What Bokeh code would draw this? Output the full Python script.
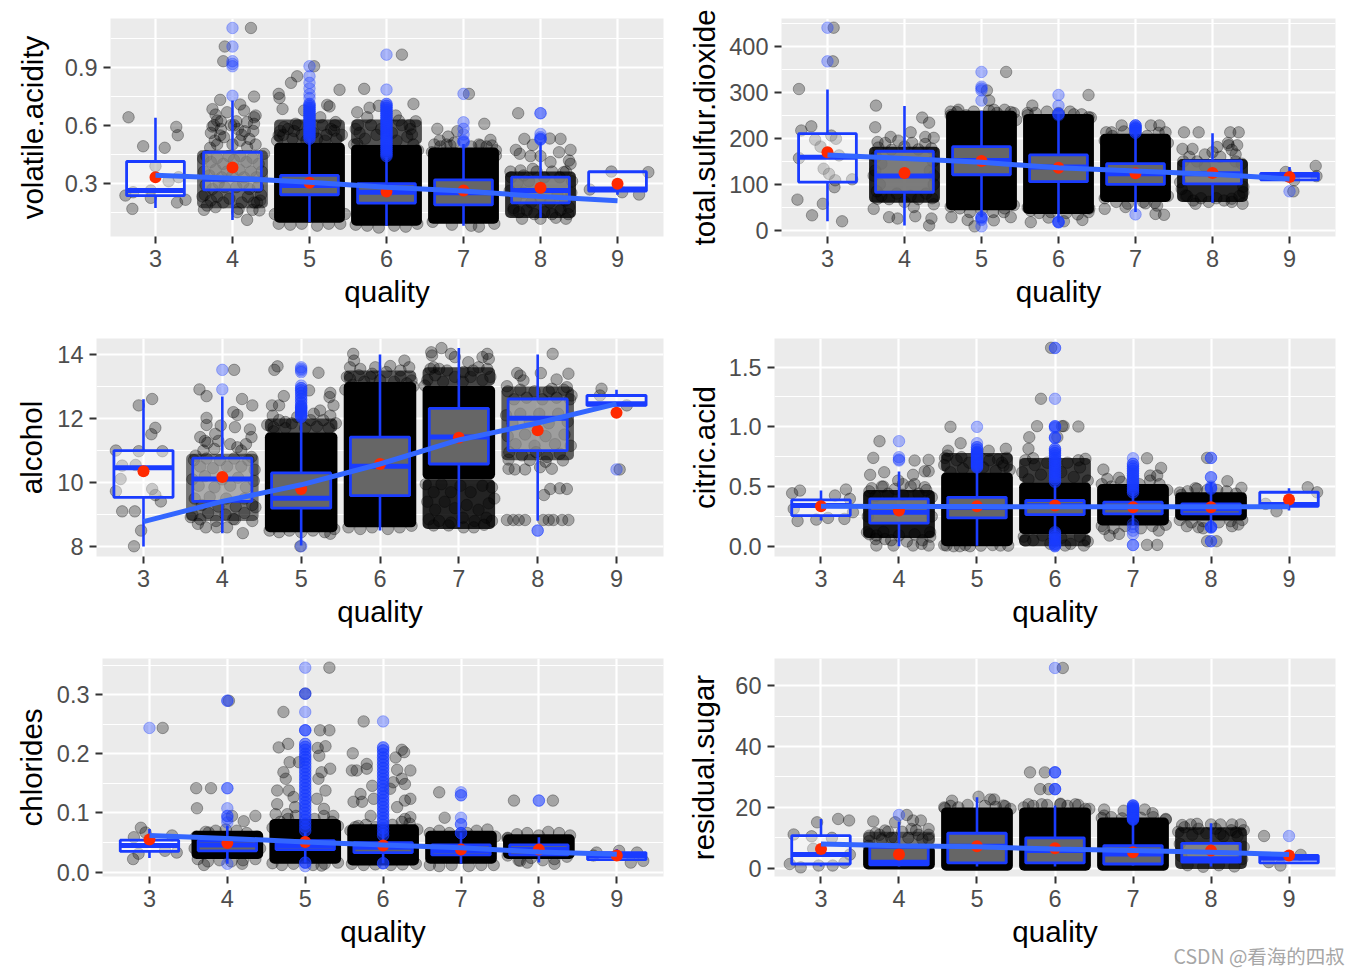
from bokeh.plotting import figure
from bokeh.layouts import column, row
from bokeh.models import FixedTicker, NumeralTickFormatter
from bokeh.core.properties import value
from bokeh.embed import file_html
from bokeh.resources import INLINE

quality = [3, 4, 5, 6, 7, 8, 9]
watermark = "CSDN @看海的四叔"

# ---------- volatile.acidity ----------
va_q1 = [.236, .265, .24, .197, .188, .198, .259]
va_med = [.262, .32, .288, .253, .25, .262, .27]
va_q3 = [.412, .46, .34, .297, .317, .331, .359]
va_lo = [.171, .11, .098, .08, .08, .121, .24]
va_hi = [.638, .728, .53, .435, .503, .512, .36]
va_mean = [.331, .381, .302, .257, .262, .276, .297]
va_trend = [.341, .326, .305, .279, .259, .231, .209]
va_blob = [(4, .17, .47, .55), (5, .095, .51, 1), (5, .51, .63, .65), (6, .08, .5, 1), (6, .5, .63, .65),
           (7, .09, .485, 1), (8, .12, .36, .8)]
va_dense_5 = [.71, .70, .69, .68, .67, .66, .65, .64, .63, .62, .61, .60, .59, .58, .57, .56, .55, .54, .53]
va_dense_6 = [.71, .70, .69, .68, .67, .66, .65, .64, .63, .62, .61, .60, .59, .58, .57, .56, .55, .54, .53, .52, .51, .50, .49, .48, .47, .46, .45, .44]
va_out = {4: [1.103, 1.007, .931, .917, .905, .752],
          5: [.905, .853, .819, .79, .76, .74] + va_dense_5 * 2,
          6: [.965, .784] + va_dense_6 * 2,
          7: [.762, .615, .581, .552, .52, .515, .51],
          8: [.662, .662, .555, .538, .529, .529, .525]}
va_jit = [(2.65, .641), (3.27, .591), (3.29, .548), (2.84, .491), (3.12, .483), (3.0, .388), (3.17, .31), (3.30, .331),
          (2.61, .236), (2.71, .253), (2.94, .224), (2.94, .262), (3.28, .2), (3.39, .214), (2.70, .167),
          (8.92, .36), (9.40, .357), (8.64, .267), (9.06, .253), (9.28, .241),
          (4.24, 1.103), (3.90, 1.007), (3.88, .931), (4.28, .748), (3.84, .731), (4.10, .707), (3.74, .683), (3.93, .667),
          (3.78, .655), (4.15, .676), (4.30, .65), (4.28, .641), (3.74, .593), (3.80, .624), (4.19, .616), (4.28, .607),
          (3.84, .547), (3.89, .538), (4.16, .569), (4.22, .529), (3.71, .483), (4.19, .486), (4.41, .452), (3.62, .426),
          (3.61, .231), (3.67, .184), (3.63, .162), (3.78, .176), (4.08, .167), (4.06, .15), (4.26, .162), (4.35, .159),
          (4.19, .11), (4.36, .21), (4.32, .2), (3.98, .6), (4.05, .62), (3.85, .58), (4.0, .5), (4.1, .52), (3.8, .5), (4.3, .5),
          (5.39, .783), (4.84, .853), (5.06, .905), (4.76, .819), (4.6, .762), (4.61, .741), (4.65, .684), (5.23, .705),
          (5.26, .697), (4.93, .676), (5.14, .641), (5.34, .616), (4.82, .607), (4.67, .59), (4.6, .547), (5.32, .572),
          (5.71, .788), (6.2, .965), (5.62, .667), (5.78, .69), (5.9, .70), (5.63, .602), (5.75, .641), (5.62, .503),
          (6.35, .71), (6.38, .62), (6.31, .58), (6.33, .552), (6.12, .65), (6.16, .624),
          (7.07, .762), (7.27, .607), (6.66, .581), (6.92, .569), (6.80, .541), (6.69, .521), (7.35, .524), (7.37, .495),
          (6.83, .495), (7.22, .495), (6.59, .46), (7.42, .443),
          (7.71, .662), (8.12, .531), (8.26, .529), (7.79, .529), (7.68, .472), (7.90, .498), (8.39, .472), (7.73, .452),
          (7.87, .44), (8.0, .44), (8.13, .409), (8.24, .46), (8.37, .417), (8.39, .4), (7.61, .36), (7.74, .366), (7.9, .374),
          (8.3, .357), (7.65, .159), (7.76, .116), (8.0, .116), (8.2, .121), (8.33, .116), (8.37, .176)]
va_dense = [(3.66, .44), (3.72, .41), (3.8, .43), (3.88, .4), (3.95, .44), (4.02, .42), (4.1, .44), (4.18, .41), (4.26, .43), (4.34, .4),
            (4.38, .36), (3.63, .36), (3.7, .34), (3.78, .37), (3.86, .33), (3.93, .36), (4.0, .34), (4.09, .37), (4.15, .33), (4.24, .36),
            (4.31, .33), (3.65, .29), (3.74, .27), (3.82, .3), (3.9, .28), (4.05, .28), (4.14, .3), (4.22, .27), (4.33, .28), (3.64, .24),
            (3.72, .21), (3.8, .23), (3.88, .2), (3.96, .22), (4.12, .2), (4.2, .23), (4.28, .2), (4.37, .24), (3.72, .56), (3.77, .52),
            (3.85, .62), (4.07, .58), (4.02, .6), (4.12, .55), (4.27, .57), (3.76, .6),
            (4.58, .52), (4.66, .55), (4.72, .58), (4.78, .53), (4.85, .6), (4.9, .55), (4.96, .52), (5.05, .56), (5.1, .53), (5.17, .6),
            (5.22, .55), (5.28, .58), (5.35, .53), (5.42, .55), (4.62, .57), (4.8, .57), (5.2, .52), (5.33, .6),
            (4.6, .09), (4.75, .085), (4.9, .09), (5.1, .08), (5.25, .09), (5.4, .09), (4.55, .14), (5.46, .14),
            (5.58, .5), (5.65, .56), (5.72, .53), (5.8, .6), (5.87, .55), (5.93, .58), (6.07, .56), (6.13, .52), (6.2, .6), (6.27, .54),
            (6.35, .5), (6.41, .47), (5.6, .58), (6.3, .6),
            (5.6, .085), (5.75, .08), (5.9, .07), (6.1, .08), (6.25, .075), (6.4, .09),
            (6.62, .5), (6.7, .49), (6.78, .5), (6.88, .51), (7.1, .49), (7.2, .5), (7.3, .49), (7.42, .47),
            (6.6, .1), (6.85, .085), (7.1, .08), (7.2, .075), (7.4, .09),
            (7.62, .33), (7.7, .3), (7.78, .34), (7.85, .31), (7.95, .36), (8.05, .33), (8.15, .36), (8.25, .33), (8.33, .36), (8.41, .31),
            (7.6, .26), (7.68, .22), (7.78, .25), (7.88, .2), (8.0, .22), (8.12, .2), (8.22, .24), (8.32, .21), (8.4, .25),
            (7.65, .17), (7.72, .15), (7.82, .16), (7.92, .14), (8.05, .15), (8.15, .14), (8.26, .16), (8.36, .14)]

# ---------- total.sulfur.dioxide ----------
ts_q1 = [105, 83, 121, 106, 100, 101, 110]
ts_med = [159, 118, 152, 138, 123, 123, 120]
ts_q3 = [210, 172, 182, 164, 145, 151, 124]
ts_lo = [20, 11, 29, 18, 40, 60, 108]
ts_hi = [306, 270, 260, 253, 213, 211, 138]
ts_mean = [170, 125, 151, 136, 124, 125, 116]
ts_trend = [164, 156, 148, 136, 129, 122, 112]
ts_blob = [(4, 60, 182, .85), (5, 44, 260, 1), (6, 36, 253, 1), (7, 62, 210, 1), (8, 62, 155, .85)]
ts_out = {3: [440, 367], 4: [],
          5: [344, 312, 308, 304, 282, 29, 29, 26, 23, 9],
          6: [294, 271, 253, 253, 253, 250, 20, 18, 18, 18],
          7: [228, 228, 228, 224, 224, 221, 221, 221, 216, 216, 212, 212, 35],
          8: [], 9: [85]}
ts_jit = [(2.63, 307), (2.79, 226), (2.66, 217), (2.84, 197), (3.05, 206), (3.11, 199), (2.91, 182), (2.63, 157), (3.15, 163),
          (2.95, 134), (3.02, 123), (3.10, 109), (3.32, 111), (3.09, 94), (2.61, 67), (2.94, 58), (2.80, 33), (3.19, 20),
          (3.08, 440), (3.07, 367),
          (3.63, 271), (3.62, 224), (4.23, 245), (4.32, 234), (3.65, 192), (3.82, 203), (4.08, 213), (4.27, 203), (4.38, 201),
          (3.6, 47), (3.8, 29), (3.91, 26), (4.14, 31), (4.35, 26), (4.32, 11), (4.38, 57), (3.65, 69), (4.12, 51), (3.6, 119), (4.38, 119),
          (5.32, 344), (5.10, 282), (5.07, 304), (4.68, 257), (5.16, 262), (5.38, 257), (4.61, 29), (4.82, 23), (4.91, 9),
          (5.16, 22), (5.38, 29), (5.29, 40), (4.6, 250), (5.45, 240),
          (5.66, 271), (6.39, 294), (6.39, 246), (5.64, 43), (5.64, 18), (5.87, 28), (6.07, 20), (6.31, 23), (6.39, 40), (5.6, 255), (6.2, 252),
          (6.82, 228), (6.62, 213), (6.69, 213), (7.2, 228), (7.31, 228), (7.39, 213), (6.6, 47), (6.87, 51), (7.13, 59),
          (7.28, 54), (7.26, 36), (7.37, 34),
          (7.63, 213), (7.82, 213), (8.23, 213), (8.34, 213), (7.61, 177), (7.74, 177), (8.06, 181), (8.32, 185), (8.21, 185),
          (8.39, 58), (7.78, 58), (8.25, 69), (7.65, 76), (8.4, 83), (7.58, 105), (8.3, 165), (7.9, 165),
          (9.34, 140), (9.35, 118), (8.95, 127), (9.06, 109), (9.05, 85)]
ts_dense = [(3.66, 180), (3.75, 190), (3.83, 175), (3.92, 195), (4.0, 182), (4.1, 190), (4.18, 176), (4.27, 188), (4.35, 178), (3.63, 160),
            (3.7, 145), (4.37, 150), (4.33, 130), (3.62, 130), (3.68, 100), (4.38, 100), (3.7, 75), (3.8, 68), (3.9, 80), (4.0, 62),
            (4.08, 75), (4.18, 68), (4.28, 80), (4.36, 70), (3.64, 85),
            (7.62, 150), (7.7, 160), (7.8, 150), (7.9, 140), (8.0, 170), (8.1, 160), (8.2, 190), (8.25, 175), (8.3, 150), (8.38, 145),
            (7.6, 90), (7.67, 75), (7.75, 65), (7.85, 70), (7.95, 62), (8.05, 70), (8.15, 65), (8.25, 62), (8.35, 75), (8.4, 95),
            (4.6, 258), (4.7, 262), (4.8, 250), (4.9, 258), (5.1, 260), (5.2, 255), (5.3, 262), (5.42, 255),
            (4.6, 52), (4.72, 48), (4.85, 40), (5.0, 45), (5.15, 40), (5.3, 48), (5.42, 55),
            (5.6, 250), (5.7, 255), (5.85, 258), (6.0, 255), (6.15, 258), (6.3, 252), (6.42, 245),
            (5.6, 50), (5.75, 38), (5.9, 40), (6.1, 38), (6.25, 35), (6.4, 48),
            (6.6, 195), (6.7, 205), (6.85, 215), (7.0, 208), (7.15, 205), (7.3, 212), (7.42, 190),
            (6.6, 70), (6.75, 62), (6.9, 58), (7.1, 62), (7.25, 60), (7.42, 75)]

# ---------- alcohol ----------
al_q1 = [9.54, 9.41, 9.2, 9.59, 10.58, 11.0, 12.41]
al_med = [10.46, 10.11, 9.51, 10.51, 11.42, 12.01, 12.46]
al_q3 = [11.0, 10.76, 10.3, 11.42, 12.32, 12.61, 12.72]
al_lo = [8.0, 8.42, 8.03, 8.5, 8.6, 8.81, 12.41]
al_hi = [12.6, 12.69, 12.1, 14.0, 14.2, 14.0, 12.9]
al_mean = [10.35, 10.17, 9.8, 10.58, 11.4, 11.63, 12.18]
al_trend = [8.78, 9.41, 9.93, 10.58, 11.33, 11.86, 12.46]
al_blob = [(4, 8.8, 10.9, .5), (5, 8.45, 11.57, 1), (5, 11.57, 12.0, .65), (6, 8.6, 13.14, 1), (6, 13.14, 13.5, .6),
           (7, 10.1, 13.03, 1), (7, 8.55, 10.1, .85), (7, 13.03, 13.6, .7), (8, 10.7, 13.0, .6)]
al_dense_5 = [12.95, 12.88, 12.8, 12.7, 12.6, 12.5, 12.4, 12.35, 12.3, 12.25, 12.2, 12.15, 12.1, 12.05]
al_out = {4: [13.52, 12.91],
          5: [13.6, 13.55, 13.5, 13.45, 13.03, 8.01] + al_dense_5 * 2,
          8: [8.5, 8.5], 9: [10.41]}
al_jit = [(3.11, 12.61), (2.94, 12.41), (3.15, 11.71), (3.10, 11.51), (2.65, 11), (2.94, 10.98), (3.24, 10.98), (2.73, 10.53),
          (2.9, 10.55), (2.71, 10.11), (3.11, 9.8), (2.65, 9.73), (3.15, 9.61), (3.22, 9.41), (2.73, 9.1), (2.89, 9.1), (2.97, 8.5), (2.88, 8.01),
          (4.15, 13.52), (3.71, 12.91), (3.8, 12.7), (4.25, 12.61), (4.38, 12.41), (4.14, 12.2), (4.19, 12.11), (3.8, 12.02),
          (3.8, 11.8), (3.98, 11.78), (4.16, 11.73), (3.72, 11.42), (3.91, 11.52), (4.35, 11.66), (4.37, 11.42), (3.81, 11.24),
          (4.19, 11.1), (4.37, 10.8), (3.66, 10.84), (3.6, 8.92), (3.69, 8.71), (3.79, 8.6), (3.93, 8.6), (4.06, 8.6), (4.26, 8.42),
          (4.14, 8.86), (4.42, 9.23), (3.78, 11.3), (3.95, 11.3), (4.1, 11.2), (4.3, 11.2),
          (4.7, 13.63), (4.66, 13.52), (5.22, 13.43), (4.78, 12.7), (5.1, 12.88), (5.37, 12.8), (5.36, 12.67), (4.63, 12.41),
          (4.72, 12.41), (5.41, 12.41), (5.24, 12.25), (4.64, 12.09), (5.37, 12.09), (5.16, 12.15), (4.65, 11.73), (4.8, 11.89),
          (5.37, 8.4), (4.99, 8.01),
          (5.66, 14.02), (5.67, 13.81), (5.62, 13.6), (5.75, 13.55), (5.94, 13.6), (6.13, 13.64), (5.62, 13.24), (5.88, 13.29),
          (6.31, 13.81), (6.37, 13.6), (6.26, 13.5), (6.4, 13.19),
          (6.78, 14.2), (6.65, 14.07), (6.66, 13.97), (6.9, 14.02), (6.95, 13.92), (7.36, 14.02), (7.3, 13.92), (7.38, 13.86),
          (7.12, 13.76), (6.64, 13.55), (6.68, 13.6), (6.85, 13.5), (7.06, 13.45), (7.25, 13.6), (7.36, 13.55), (6.57, 13.03),
          (6.68, 8.66), (6.87, 8.66), (7.06, 8.6), (7.32, 8.68), (7.19, 8.6),
          (8.19, 14.02), (8.39, 13.4), (7.74, 13.42), (8.04, 13.42), (8.24, 13.22), (7.61, 13.01), (7.82, 13.19), (7.78, 13.34),
          (8.18, 12.93), (8.37, 12.98), (8.43, 12.72),
          (7.63, 10.72), (8.32, 10.69), (7.63, 10.43), (7.71, 10.41), (7.84, 10.41), (8.03, 10.48), (8.18, 10.43), (8.16, 9.8),
          (8.28, 9.82), (8.37, 9.8), (8.08, 9.61),
          (7.61, 8.83), (7.69, 8.83), (7.76, 8.83), (7.84, 8.83), (8.07, 8.83), (8.14, 8.83), (8.2, 8.83), (8.31, 8.83), (8.39, 8.83),
          (8.81, 12.93), (8.79, 12.72), (9.13, 12.41), (9.04, 10.41)]
al_dense = [(3.64, 10.7), (3.72, 10.5), (3.8, 10.75), (3.88, 10.45), (3.97, 10.7), (4.06, 10.5), (4.15, 10.75), (4.24, 10.5), (4.33, 10.7), (4.41, 10.4),
            (3.62, 10.1), (3.7, 9.9), (3.78, 10.2), (3.9, 9.85), (4.0, 10.1), (4.1, 9.9), (4.2, 10.15), (4.3, 9.85), (4.4, 10.05),
            (3.65, 9.5), (3.74, 9.3), (3.84, 9.55), (3.95, 9.25), (4.05, 9.5), (4.17, 9.25), (4.28, 9.5), (4.38, 9.3),
            (3.62, 9.0), (3.72, 8.85), (3.82, 9.05), (3.92, 8.8), (4.04, 9.0), (4.16, 8.85), (4.28, 9.05), (4.38, 8.8), (3.76, 11.0), (3.9, 11.05), (4.24, 11.0),
            (4.57, 11.8), (4.65, 11.6), (4.72, 11.95), (4.8, 11.7), (4.88, 11.85), (4.95, 12.05), (5.05, 11.7), (5.12, 11.95), (5.2, 11.75), (5.28, 11.95), (5.35, 11.7), (5.44, 11.85),
            (4.6, 8.5), (4.72, 8.45), (4.85, 8.5), (5.0, 8.45), (5.15, 8.5), (5.3, 8.45), (5.42, 8.55),
            (5.58, 13.3), (5.65, 13.05), (5.73, 13.35), (5.8, 13.15), (5.9, 13.4), (6.0, 13.2), (6.08, 13.45), (6.18, 13.15), (6.26, 13.3), (6.34, 13.1), (6.42, 13.0), (5.56, 12.9),
            (5.6, 8.6), (5.75, 8.55), (5.9, 8.6), (6.1, 8.55), (6.25, 8.6), (6.4, 8.65),
            (6.6, 13.2), (6.7, 13.35), (6.8, 13.15), (6.95, 13.3), (7.05, 13.15), (7.15, 13.3), (7.3, 13.2), (7.4, 13.3), (6.75, 13.55), (7.18, 13.5),
            (6.58, 9.95), (6.68, 9.7), (6.78, 9.95), (6.9, 9.7), (7.02, 9.9), (7.15, 9.7), (7.3, 9.9), (7.42, 9.85),
            (6.6, 9.4), (6.7, 9.15), (6.82, 9.4), (6.95, 9.2), (7.1, 9.3), (7.25, 9.15), (7.38, 9.35), (7.45, 9.5),
            (6.62, 8.85), (6.75, 8.8), (6.9, 8.75), (7.05, 8.9), (7.2, 8.8), (7.35, 8.9), (7.42, 8.8),
            (7.62, 12.85), (7.7, 12.6), (7.78, 12.9), (7.86, 12.65), (7.96, 12.85), (8.06, 12.6), (8.14, 12.85), (8.24, 12.65), (8.33, 12.9), (8.41, 12.6),
            (7.6, 12.1), (7.68, 11.85), (7.78, 12.15), (7.9, 11.9), (8.02, 12.15), (8.14, 11.85), (8.26, 12.15), (8.38, 11.9),
            (7.62, 11.45), (7.72, 11.2), (7.84, 11.5), (7.96, 11.15), (8.1, 11.45), (8.22, 11.2), (8.34, 11.5), (8.42, 11.15),
            (7.64, 10.95), (7.8, 10.85), (7.98, 10.95), (8.12, 10.8), (8.28, 10.9), (7.9, 10.7), (8.1, 10.65)]

# ---------- citric.acid ----------
ca_q1 = [.257, .193, .237, .265, .271, .271, .335]
ca_med = [.341, .285, .327, .34, .327, .313, .349]
ca_q3 = [.388, .397, .41, .383, .369, .355, .452]
ca_lo = [.215, 0, .005, .117, .173, .117, .3]
ca_hi = [.466, .626, .648, .508, .453, .536, .486]
ca_mean = [.335, .299, .335, .341, .327, .327, .391]
ca_trend = [.335, .333, .333, .33, .33, .33, .33]
ca_blob = [(4, .07, .47, .9), (5, 0, .62, 1), (5, .62, .78, .75), (6, .1, .536, 1), (6, .536, .74, .75), (6, 0, .1, .75),
           (7, .173, .522, 1), (8, .215, .453, 1)]
ca_dense_5 = [.83, .81, .79, .78, .77, .76, .75, .74, .73, .72, .71, .70, .69, .68, .67, .66]
ca_dense_6 = [.816, .80, .78, .76, .74, .72, .70, .68, .66, .64, .62, .60, .58, .56, .54, .117, .10, .08, .06, .04, .02, .01, 0]
ca_dense_7 = [.69, .67, .65, .63, .61, .59, .57, .55, .53, .51, .49, .47, .45]
ca_out = {4: [.88, .746, .726, .718],
          5: [1.0, .863] + ca_dense_5 * 2,
          6: [1.662, 1.66, 1.235, 1.006, 1.006, 1.0, .99, .913, .91, .905] + ca_dense_6 * 2,
          7: [.737, .187, .16, .13, .1, .01, .01] + ca_dense_7 * 2,
          8: [.74, .74, .578, .578, .50, .49, .486, .48, .16, .16, .165, .155, .042, .042]}
ca_jit = [(2.63, .444), (2.73, .466), (3.18, .425), (3.32, .475), (3.37, .397), (3.41, .285), (2.7, .212), (2.94, .223), (3.09, .237),
          (3.3, .229), (2.65, .313),
          (3.75, .88), (3.67, .74), (4.2, .718), (4.38, .723), (3.81, .62), (3.63, .598), (4.18, .598), (4.33, .628), (4.38, .628),
          (3.99, .55), (3.65, .486), (4.33, .494), (3.71, .006), (3.93, .006), (4.18, .006), (4.38, .006), (3.82, .06), (4.4, .117),
          (3.59, .117), (3.71, .09), (4.29, .02), (3.8, .5), (4.05, .52), (4.2, .52),
          (4.66, 1.0), (4.79, .863), (4.63, .80), (5.15, .80), (5.37, .816), (5.27, .726), (4.59, .74), (4.8, .746), (5.34, .676),
          (4.61, .006), (4.78, 0), (4.91, 0), (5.3, .006),
          (5.95, 1.662), (5.82, 1.235), (5.77, 1.006), (6.11, 1.006), (5.67, .913), (5.66, .816), (5.62, .047), (5.72, .737),
          (6.3, 1.003), (6.09, 1.006), (6.39, .732), (6.37, .006), (6.13, .006), (6.03, .913),
          (7.18, .737), (6.62, .642), (7.36, .656), (7.22, .592), (7.31, .592), (6.82, .573), (6.67, .564), (7.33, .131), (6.7, .089),
          (6.82, .103), (7.18, .011), (7.31, .011), (6.63, .145),
          (7.95, .74), (8.21, .545), (8.39, .489), (7.8, .486), (7.62, .43), (7.69, .168), (7.84, .159), (7.9, .151), (8.27, .168),
          (8.35, .182), (8.07, .042), (7.95, .042),
          (9.24, .494), (9.36, .452), (8.7, .355), (8.84, .293)]
ca_dense = [(3.62, .46), (3.7, .42), (3.78, .5), (3.86, .44), (3.95, .48), (4.05, .43), (4.15, .5), (4.25, .44), (4.35, .47), (4.42, .41),
            (3.62, .1), (3.7, .06), (3.8, .12), (3.9, .05), (4.0, .09), (4.1, .04), (4.2, .1), (4.3, .05), (4.4, .08), (3.6, .25), (4.42, .25),
            (4.58, .68), (4.66, .62), (4.74, .72), (4.82, .65), (4.9, .7), (5.08, .66), (5.16, .72), (5.24, .63), (5.32, .7), (5.42, .64), (4.62, .76), (5.38, .74),
            (4.58, .01), (4.7, .0), (4.85, .01), (5.05, .005), (5.2, .01), (5.4, .005),
            (5.58, .62), (5.66, .56), (5.74, .68), (5.82, .6), (5.9, .7), (6.08, .62), (6.16, .7), (6.24, .58), (6.32, .66), (6.42, .55), (5.62, .72), (6.3, .72),
            (5.6, .08), (5.72, .05), (5.84, .09), (5.94, .02), (6.08, .07), (6.2, .02), (6.32, .08), (6.42, .04),
            (6.6, .52), (6.72, .5), (6.85, .54), (7.08, .52), (7.22, .55), (7.34, .52), (7.44, .47), (6.6, .17), (6.75, .15), (6.9, .17), (7.1, .15), (7.25, .17), (7.42, .18),
            (7.6, .45), (7.7, .46), (7.82, .48), (7.95, .47), (8.08, .47), (8.2, .46), (8.32, .44), (7.6, .22), (7.75, .2), (7.9, .21), (8.1, .2), (8.25, .21), (8.4, .22)]

# ---------- chlorides ----------
cl_q1 = [.035, .036, .038, .033, .029, .029, .021]
cl_med = [.045, .046, .045, .042, .036, .038, .028]
cl_q3 = [.054, .053, .053, .05, .046, .046, .033]
cl_lo = [.024, .014, .016, .015, .014, .016, .019]
cl_hi = [.073, .079, .067, .073, .067, .059, .039]
cl_mean = [.055, .049, .051, .045, .038, .038, .028]
cl_trend = [.062, .057, .051, .046, .041, .034, .03]
cl_blob = [(4, .022, .07, 1), (5, .014, .09, 1), (6, .011, .081, 1), (7, .014, .07, 1), (8, .022, .064, 1)]
cl_dense_5 = [.217, .212, .207, .2, .195, .19, .184, .178, .172, .166, .16, .154, .148, .142, .136, .13,
              .124, .118, .112, .106, .1, .094, .088, .082, .076, .07]
cl_dense_6 = [.211, .206, .2, .194, .188, .182, .176, .17, .164, .158, .152, .146, .14, .134, .128, .122, .116, .11, .104, .098, .092, .086,
              .08, .074, .068, .062]
cl_out = {3: [.244], 4: [.29, .29, .142, .142, .108, .095, .095, .09, .084, .014],
          5: [.346, .302, .302, .271, .24, .24, .24, .016, .016, .016, .01] + cl_dense_5 * 2,
          6: [.255, .015, .015, .015] + cl_dense_6 * 2,
          7: [.135, .13, .13, .092, .081, .081, .066, .066, .066], 8: [.121, .121]}
cl_jit = [(3.17, .244), (2.89, .075), (2.8, .059), (3.29, .062), (2.95, .067), (2.79, .022), (2.86, .031), (3.35, .033), (3.2, .036),
          (3.6, .142), (3.79, .142), (3.61, .108), (4.36, .095), (4.21, .086), (4.06, .095), (4.02, .29), (3.7, .012), (4.19, .014), (3.76, .067),
          (5.31, .346), (5.0, .302), (4.72, .271), (5.19, .24), (5.31, .24), (4.66, .211), (4.78, .217), (5.16, .21), (5.26, .213),
          (5.18, .197), (4.8, .186), (4.92, .186), (4.72, .169), (4.75, .158), (5.32, .175), (5.21, .169), (5.17, .158), (4.64, .138),
          (4.79, .138), (5.26, .138), (4.85, .127), (5.15, .124), (4.64, .115), (4.87, .11), (5.24, .107), (4.62, .098), (4.77, .098),
          (5.36, .095), (5.21, .011),
          (5.75, .255), (5.61, .201), (5.79, .183), (5.6, .172), (5.66, .172), (5.79, .175), (5.62, .119), (5.73, .119), (5.71, .132),
          (5.86, .146), (5.88, .124), (5.84, .095), (5.64, .076),
          (6.24, .207), (6.27, .203), (6.16, .194), (6.18, .173), (6.35, .172), (6.13, .152), (6.24, .158), (6.28, .149), (6.09, .141),
          (6.28, .121), (6.35, .124), (6.18, .11), (6.28, .09), (6.35, .093),
          (6.72, .135), (6.79, .092),
          (7.68, .121), (8.18, .121), (7.6, .057), (8.2, .014), (7.85, .016), (7.76, .019),
          (8.74, .033), (9.03, .036), (9.26, .033), (9.18, .016), (9.34, .019), (8.7, .028)]
cl_dense = [(3.6, .06), (3.72, .068), (3.85, .07), (3.98, .072), (4.12, .07), (4.25, .066), (4.38, .06), (4.42, .04), (3.58, .04),
            (3.62, .022), (3.75, .018), (3.9, .02), (4.05, .018), (4.2, .02), (4.36, .022),
            (4.58, .075), (4.68, .085), (4.78, .09), (4.88, .095), (5.12, .09), (5.24, .095), (5.34, .085), (5.42, .078),
            (4.58, .015), (4.7, .012), (4.85, .014), (5.1, .012), (5.25, .014), (5.42, .016),
            (5.58, .07), (5.68, .078), (5.78, .08), (5.9, .076), (6.12, .08), (6.24, .085), (6.34, .082), (6.44, .072),
            (5.6, .014), (5.75, .012), (5.9, .013), (6.1, .012), (6.25, .013), (6.42, .014),
            (6.6, .066), (6.72, .07), (6.85, .066), (7.08, .066), (7.2, .07), (7.34, .072), (7.44, .06),
            (6.6, .012), (6.72, .01), (6.88, .012), (7.1, .01), (7.26, .012), (7.42, .012),
            (7.6, .058), (7.72, .064), (7.85, .066), (8.0, .062), (8.12, .068), (8.26, .066), (8.4, .062),
            (7.6, .028), (7.74, .02), (7.9, .024), (8.05, .02), (8.2, .022), (8.36, .026)]

# ---------- residual.sugar ----------
rs_q1 = [1.4, 1.1, 1.75, 1.75, 1.4, 2.0, 1.75]
rs_med = [4.5, 2.0, 7.2, 5.8, 4.7, 3.1, 3.3]
rs_q3 = [10.7, 6.9, 11.5, 10.0, 7.4, 8.2, 4.2]
rs_lo = [.6, .6, .6, .6, .9, .6, 1.75]
rs_hi = [16.2, 15.4, 23.3, 20.6, 15.7, 14.8, 4.2]
rs_mean = [6.35, 4.5, 7.2, 6.6, 5.3, 5.8, 4.2]
rs_trend = [8.0, 7.4, 7.1, 6.3, 5.8, 5.3, 4.5]
rs_blob = [(4, -.4, 7.4, 1), (4, 7.4, 12, .5), (5, -.8, 20, 1), (6, -.8, 20, 1), (7, -.8, 16.7, 1), (8, -.2, 13.5, .8)]
rs_dense_7 = [20.6, 20, 19.4, 18.8, 18.2, 17.6, 17, 16.4, 16]
rs_out = {4: [17.5], 6: [65.8, 31.5, 31.5, 31.5, 26, 26, 26], 7: rs_dense_7 * 3, 9: [10.6]}
rs_jit = [(2.95, 15.1), (3.22, 16.2), (3.36, 15.7), (2.65, 11.1), (2.88, 10.5), (3.14, 10), (2.9, 6.4), (3.37, 4.5), (2.6, 1.4),
          (2.74, .3), (2.97, .9), (3.15, .9), (3.3, 1.8),
          (3.67, 15.4), (4.1, 17.5), (3.62, 10.7), (3.82, 12.4), (3.95, 15.1), (4.18, 15.7), (4.28, 15.7), (4.38, 12.9), (4.16, 12.9),
          (4.38, 9.6), (3.61, 7.4), (3.75, 11), (3.9, 10), (4.25, 11),
          (5.02, 23.5), (4.68, 22.2), (5.17, 22.6), (5.22, 22.6), (5.36, 20.4), (4.59, 19.7),
          (6.1, 65.8), (5.68, 31.5), (5.87, 31.5), (5.81, 26), (5.92, 26), (6.07, 21), (5.66, 21), (5.83, 21), (6.07, 21.2), (6.26, 21), (6.39, 19.5),
          (6.63, 19.3), (6.63, 17.3), (6.88, 18.9), (7.15, 19.3), (7.25, 18.1), (7.42, 16.2),
          (7.63, 14.2), (7.74, 14.4), (7.82, 14.6), (8.0, 14.4), (8.12, 14.4), (8.27, 14.4), (8.38, 14.4), (8.12, 11.3), (8.32, 11.8),
          (8.68, 10.6), (9.15, 4.4), (8.74, 2), (8.89, .9)]
rs_dense = [(3.62, 9), (3.7, 11.5), (3.78, 9.5), (3.86, 12), (3.94, 10), (4.04, 12), (4.12, 10), (4.22, 12.5), (4.3, 9.5), (4.38, 11),
            (4.58, 20), (4.66, 20.5), (4.76, 20), (4.88, 20.8), (5.1, 20.5), (5.24, 20.2), (5.34, 20.6), (5.43, 19.5),
            (5.6, 20), (5.72, 20.5), (5.9, 20.8), (6.16, 20.5), (6.3, 20.8), (6.44, 19.5),
            (6.6, 16.5), (6.72, 16.8), (6.86, 16.4), (7.1, 16.6), (7.26, 16.8), (7.42, 16),
            (7.58, 12), (7.66, 13.5), (7.76, 11), (7.84, 13), (7.94, 11.5), (8.06, 13), (8.16, 10.5), (8.26, 12.5), (8.34, 10.5), (8.42, 12.5),
            (7.6, 8), (7.62, 4), (8.42, 7), (8.4, 3), (7.7, 1), (7.9, .5), (8.1, 1), (8.3, .6)]

PANEL = "#EBEBEB"
BLUE = "#1a3cff"
TREND = "#3366FF"
RED = "#ff2a00"
SANS = "Liberation Sans"


def panel(name, q1, med, q3, lo, hi, mean, trend, blob, out, jit, dense,
          xr, yr, major, minor, w, h, border, label_standoff, fmt, box_half=.375):
    p = figure(width=w, height=h, output_backend="svg", toolbar_location=None,
               x_range=xr, y_range=yr, min_border_left=border[0], min_border_right=border[1],
               min_border_top=border[2], min_border_bottom=border[3], background_fill_color=PANEL,
               border_fill_color="white", outline_line_color=None)
    p.xaxis.ticker = FixedTicker(ticks=quality)
    p.yaxis.ticker = FixedTicker(ticks=major, minor_ticks=minor)
    p.yaxis.formatter = NumeralTickFormatter(format=fmt)
    p.xaxis.axis_label = "quality"
    p.yaxis.axis_label = name
    for ax in (p.xaxis[0], p.yaxis[0]):
        ax.axis_line_color = None
        ax.major_tick_line_color = "#333333"
        ax.major_tick_line_width = 2
        ax.major_tick_in = 0
        ax.major_tick_out = 7
        ax.minor_tick_line_color = None
        ax.major_label_text_font = SANS
        ax.major_label_text_font_size = "23.5px"
        ax.major_label_text_color = "#4D4D4D"
        ax.axis_label_text_font = SANS
        ax.axis_label_text_font_size = "29.5px"
        ax.axis_label_text_font_style = "normal"
        ax.axis_label_text_color = "black"
        ax.major_label_standoff = 6
    p.xaxis.axis_label_standoff = 5
    p.yaxis.axis_label_standoff = label_standoff
    p.xgrid.grid_line_color = "white"
    p.xgrid.grid_line_width = 2.2
    p.ygrid.grid_line_color = "white"
    p.ygrid.grid_line_width = 2.2
    p.ygrid.minor_grid_line_color = "white"
    p.ygrid.minor_grid_line_width = 1.2

    # dense stretches of the jittered cloud
    p.quad(left=[b[0] - .46 for b in blob], right=[b[0] + .46 for b in blob],
           bottom=[b[1] for b in blob], top=[b[2] for b in blob],
           fill_color="black", fill_alpha=[b[3] for b in blob], line_color=None, border_radius=5)
    # separately visible jittered points
    pts = jit + dense
    p.scatter([j[0] for j in pts], [j[1] for j in pts], size=11.5, marker="circle",
              fill_color="black", fill_alpha=.3, line_color="black", line_alpha=.3, line_width=1)
    # whiskers
    p.segment(quality, q3, quality, hi, line_color=BLUE, line_width=2.6)
    p.segment(quality, q1, quality, lo, line_color=BLUE, line_width=2.6)
    # outliers
    ox = [q for q, vals in out.items() for _ in vals]
    oy = [v for vals in out.values() for v in vals]
    p.scatter(ox, oy, size=11.5, marker="circle", fill_color=BLUE, fill_alpha=.35,
              line_color=BLUE, line_alpha=.35, line_width=1)
    # boxes
    p.quad(left=[q - box_half for q in quality], right=[q + box_half for q in quality], bottom=q1, top=q3,
           fill_color="white", fill_alpha=.4, line_color=BLUE, line_width=2.8)
    p.segment([q - box_half for q in quality], med, [q + box_half for q in quality], med,
              line_color=BLUE, line_width=5)
    # means
    p.scatter(quality, mean, size=12, marker="circle", fill_color=RED, line_color=RED, line_width=0)
    # trend
    p.line(quality, trend, line_color=TREND, line_width=5)
    return p


# x_range ends and frame borders follow the reference's layout
p1 = panel("volatile.acidity", va_q1, va_med, va_q3, va_lo, va_hi, va_mean, va_trend, va_blob, va_out, va_jit, va_dense,
           (2.416, 9.597), (.024, 1.152), [.3, .6, .9], [.15, .45, .75, 1.05], 672, 328, (110, 9, 18, 92), 13, "0.0")
p2 = panel("total.sulfur.dioxide", ts_q1, ts_med, ts_q3, ts_lo, ts_hi, ts_mean, ts_trend, ts_blob, ts_out, ts_jit, ts_dense,
           (2.403, 9.597), (-13, 460), [0, 100, 200, 300, 400], [50, 150, 250, 350, 450], 680, 328, (109, 17, 18, 92), 5, "0")
p3 = panel("alcohol", al_q1, al_med, al_q3, al_lo, al_hi, al_mean, al_trend, al_blob, al_out, al_jit, al_dense,
           (2.404, 9.596), (7.69, 14.5), [8, 10, 12, 14], [9, 11, 13], 672, 320, (96, 9, 10, 92), 6, "0")
p4 = panel("citric.acid", ca_q1, ca_med, ca_q3, ca_lo, ca_hi, ca_mean, ca_trend, ca_blob, ca_out, ca_jit, ca_dense,
           (2.404, 9.596), (-.086, 1.74), [0, .5, 1, 1.5], [.25, .75, 1.25], 680, 320, (102, 17, 10, 92), 5, "0.0")
p5 = panel("chlorides", cl_q1, cl_med, cl_q3, cl_lo, cl_hi, cl_mean, cl_trend, cl_blob, cl_out, cl_jit, cl_dense,
           (2.397, 9.6), (-.0075, .3615), [0, .1, .2, .3], [.05, .15, .25, .35], 672, 318, (102, 9, 10, 90), 6, "0.0")
p6 = panel("residual.sugar", rs_q1, rs_med, rs_q3, rs_lo, rs_hi, rs_mean, rs_trend, rs_blob, rs_out, rs_jit, rs_dense,
           (2.404, 9.596), (-2.7, 68.9), [0, 20, 40, 60], [10, 30, 50], 680, 318, (102, 17, 10, 90), 12, "0")

# the watermark lies over the lower right corner, below the last panel's frame
pw = figure(width=186, height=28, output_backend="svg", toolbar_location=None, x_range=(0, 1), y_range=(0, 1),
            min_border=0, outline_line_color=None, background_fill_color=None, border_fill_color=None,
            margin=(-25, 0, 0, 1173))
pw.axis.visible = False
pw.grid.visible = False
pw.text(x=[0], y=[.5], text=[watermark], text_font=value("Noto Sans CJK SC"), text_font_size="19.5px",
        text_color="#a6a6a6", text_baseline="middle")

page = column(row(p1, p2), row(p3, p4), row(p5, p6), pw)
open("out.html", "w").write(file_html(page, INLINE))
